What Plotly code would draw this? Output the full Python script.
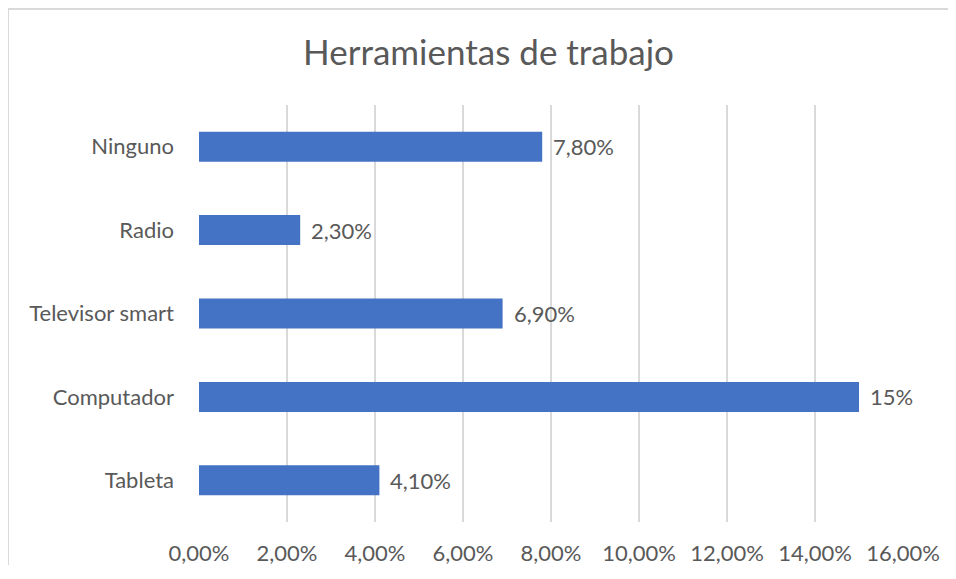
import plotly.graph_objects as go

# categorias de abajo hacia arriba (plotly pone la primera abajo)
categorias = ["Tableta", "Computador", "Televisor smart", "Radio", "Ninguno"]
porcentajes = [4.1, 15, 6.9, 2.3, 7.8]
etiquetas = ["4,10%", "15%", "6,90%", "2,30%", "7,80%"]

ticks_x = [0, 2, 4, 6, 8, 10, 12, 14, 16]
ticks_x_texto = ["0,00%", "2,00%", "4,00%", "6,00%", "8,00%",
                 "10,00%", "12,00%", "14,00%", "16,00%"]

GRIS_TEXTO = "#595959"
AZUL = "#4472C4"
FUENTE = "Lato, 'Open Sans', sans-serif"

# la pagina tiene 8px de margen en el body: se resta para no generar scroll
ANCHO, ALTO = 944, 557
M_IZQ, M_SUP = 191, 97
PLOT_W, PLOT_H = 704, 417
M_DER = ANCHO - M_IZQ - PLOT_W
M_INF = ALTO - M_SUP - PLOT_H

fig = go.Figure()
fig.add_trace(
    go.Bar(
        y=categorias,
        x=porcentajes,
        orientation="h",
        width=0.36,
        marker=dict(color=AZUL, line=dict(width=0)),
        hoverinfo="skip",
    )
)

# etiquetas de datos a la derecha de cada barra
for cat, val, txt in zip(categorias, porcentajes, etiquetas):
    fig.add_annotation(
        x=val,
        y=cat,
        text=txt,
        showarrow=False,
        xanchor="left",
        yanchor="middle",
        xshift=9,
        font=dict(color=GRIS_TEXTO, size=22, family=FUENTE),
    )

fig.update_layout(
    width=ANCHO,
    height=ALTO,
    margin=dict(l=M_IZQ, r=M_DER, t=M_SUP, b=M_INF, autoexpand=False),
    paper_bgcolor="white",
    plot_bgcolor="white",
    showlegend=False,
    font=dict(family=FUENTE, color=GRIS_TEXTO, size=22),
    title=dict(
        text="Herramientas de trabajo",
        x=480.5 / ANCHO,
        xref="container",
        xanchor="center",
        y=1 - 45 / ALTO,
        yref="container",
        yanchor="middle",
        font=dict(size=35, color=GRIS_TEXTO, family=FUENTE),
    ),
    shapes=[
        # marco del grafico: solo borde izquierdo y superior visibles
        dict(
            type="line",
            xref="paper",
            yref="paper",
            x0=(0 - M_IZQ) / PLOT_W,
            x1=(0 - M_IZQ) / PLOT_W,
            y0=-0.3,
            y1=(PLOT_H + M_SUP - 1) / PLOT_H,
            line=dict(color="#D9D9D9", width=2),
            layer="below",
        ),
        dict(
            type="line",
            xref="paper",
            yref="paper",
            x0=(0 - M_IZQ) / PLOT_W,
            x1=(ANCHO + 40 - M_IZQ) / PLOT_W,
            y0=(PLOT_H + M_SUP - 1) / PLOT_H,
            y1=(PLOT_H + M_SUP - 1) / PLOT_H,
            line=dict(color="#D9D9D9", width=2),
            layer="below",
        ),
    ],
)

fig.update_xaxes(
    range=[0, 16],
    tickvals=ticks_x,
    ticktext=ticks_x_texto,
    showgrid=True,
    gridcolor="#D9D9D9",
    gridwidth=2,
    zeroline=False,
    showline=False,
    ticks="",
    ticklabelstandoff=16,
    tickfont=dict(size=22, color=GRIS_TEXTO),
    automargin=False,
    fixedrange=True,
)
fig.update_yaxes(
    categoryorder="array",
    categoryarray=categorias,
    showgrid=False,
    zeroline=False,
    showline=False,
    ticks="",
    ticklabelstandoff=24,
    tickfont=dict(size=22, color=GRIS_TEXTO),
    automargin=False,
    fixedrange=True,
)

fig.write_html("out.html")
